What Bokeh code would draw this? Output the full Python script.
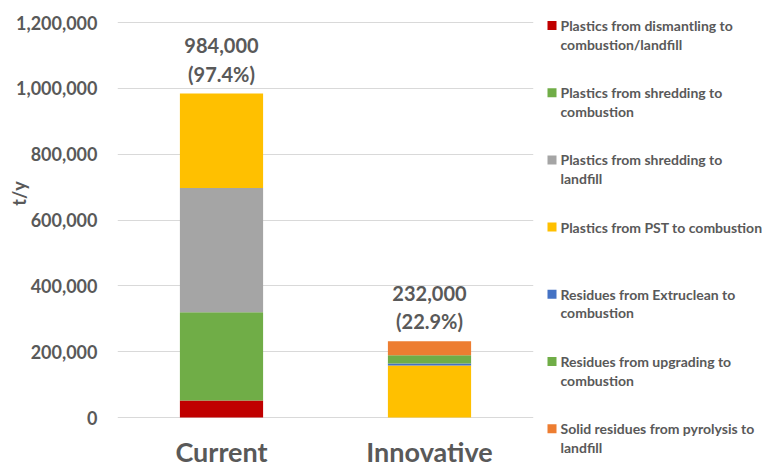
from bokeh.plotting import figure
from bokeh.models import ColumnDataSource, Range1d, FactorRange, NumeralTickFormatter, FixedTicker
from bokeh.layouts import row
from bokeh.embed import file_html
from bokeh.resources import INLINE
from bokeh.core.properties import value

categories = ["Current", "Innovative"]
series_names = [
    "Plastics from dismantling to\ncombustion/landfill",
    "Plastics from shredding to\ncombustion",
    "Plastics from shredding to\nlandfill",
    "Plastics from PST to combustion",
    "Residues from Extruclean to\ncombustion",
    "Residues from upgrading to\ncombustion",
    "Solid residues from pyrolysis to\nlandfill",
]
dismantling = [52000, 0]
shred_comb = [268000, 0]
shred_land = [377000, 0]
pst_comb = [287000, 158000]
extruclean = [0, 6000]
upgrading = [0, 25000]
pyrolysis = [0, 43000]
totals = [984000, 232000]
total_labels = ["984,000", "232,000"]
pct_labels = ["(97.4%)", "(22.9%)"]
y_ticks = [0, 200000, 400000, 600000, 800000, 1000000, 1200000]
y_max = 1200000
y_title = "t/y"

colors = ["#C00000", "#70AD47", "#A5A5A5", "#FFC000", "#4472C4", "#70AD47", "#ED7D31"]
keys = ["s0", "s1", "s2", "s3", "s4", "s5", "s6"]
FONT = "Lato"
GREY = "#595959"

# layout (pixels)
H = 469
PX_TOP = 22      # pixel row of y_max
PX_ZERO = 417    # pixel row of 0
LEFT = 117
FRAME_W = 416
upp = y_max / (PX_ZERO - PX_TOP)   # data units per pixel

data = dict(cat=categories, s0=dismantling, s1=shred_comb, s2=shred_land, s3=pst_comb,
            s4=extruclean, s5=upgrading, s6=pyrolysis, total=totals,
            tl=total_labels, pl=pct_labels, zero=[0] * len(categories))
src = ColumnDataSource(data)

p = figure(x_range=FactorRange(*categories),
           y_range=Range1d(-(H - PX_ZERO) * upp, y_max + PX_TOP * upp),
           width=LEFT + FRAME_W + 7, height=H, output_backend="svg", toolbar_location=None,
           x_axis_location=None,
           min_border_left=LEFT, min_border_right=7, min_border_top=0, min_border_bottom=0)
p.outline_line_color = None
p.vbar_stack(keys, x="cat", width=0.4, color=colors, line_color=None, source=src)

p.text(x="cat", y="total", text="tl", source=src, y_offset=-48, text_align="center",
       text_baseline="middle", text_font=value(FONT), text_font_style="bold",
       text_font_size="20px", text_color=GREY)
p.text(x="cat", y="total", text="pl", source=src, y_offset=-20, text_align="center",
       text_baseline="middle", text_font=value(FONT), text_font_style="bold",
       text_font_size="20px", text_color=GREY)
# category labels
p.text(x="cat", y="zero", text="cat", source=src, y_offset=34, text_align="center",
       text_baseline="middle", text_font=value(FONT), text_font_style="bold",
       text_font_size="27px", text_color=GREY)

p.yaxis.ticker = FixedTicker(ticks=y_ticks)
p.yaxis.formatter = NumeralTickFormatter(format="0,0")
p.yaxis.major_label_text_font = FONT
p.yaxis.major_label_text_font_style = "bold"
p.yaxis.major_label_text_font_size = "18px"
p.yaxis.major_label_text_color = GREY
p.yaxis.major_label_standoff = 20
p.yaxis.major_tick_out = 0
p.yaxis.major_tick_in = 0
p.yaxis.axis_line_color = None
p.yaxis.major_tick_line_color = None
p.yaxis.minor_tick_line_color = None
# axis title: non-breaking padding lifts the visible text above the frame centre
p.yaxis.axis_label = "\u00a0" * 19 + y_title
p.yaxis.axis_label_standoff = -17
p.yaxis.axis_label_text_font = FONT
p.yaxis.axis_label_text_font_style = "bold"
p.yaxis.axis_label_text_font_size = "18px"
p.yaxis.axis_label_text_color = GREY

p.xgrid.grid_line_color = None
p.ygrid.grid_line_color = "#D9D9D9"
p.ygrid.grid_line_width = 1

# legend figure
lg = figure(width=765 - (LEFT + FRAME_W + 7), height=H, x_range=Range1d(0, 225),
            y_range=Range1d(H, 0), output_backend="svg", toolbar_location=None,
            x_axis_location=None, y_axis_location=None,
            min_border_left=0, min_border_right=0, min_border_top=0, min_border_bottom=0)
lg.grid.visible = False
lg.outline_line_color = None

sq_x, sq_y, sq_c = [], [], []
tx, ty, tt = [], [], []
for i, name in enumerate(series_names):
    base = 25 + i * 67.2
    sq_x.append(11.5)
    sq_y.append(base)
    sq_c.append(colors[i])
    for j, line in enumerate(name.split("\n")):
        tx.append(20)
        ty.append(base + j * 18.5)
        tt.append(line)
lg.scatter(x=sq_x, y=sq_y, marker="square", size=9, color=sq_c, line_color=None)
lg.text(x=tx, y=ty, text=tt, text_align="left", text_baseline="middle",
        text_font=value(FONT), text_font_style="bold", text_font_size="14px",
        text_color=GREY)

layout = row(p, lg)
open("out.html", "w").write(file_html(layout, INLINE))
